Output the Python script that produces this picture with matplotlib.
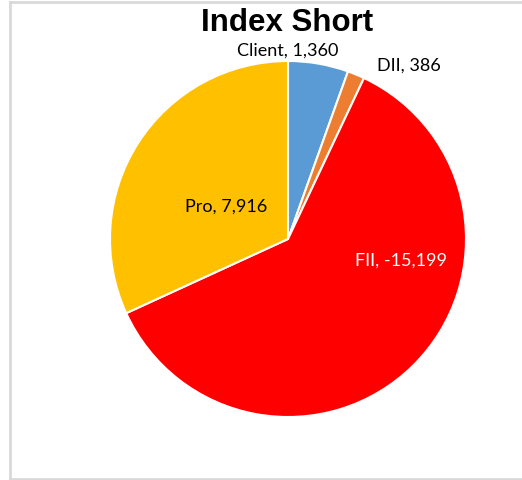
import matplotlib
matplotlib.use("Agg")
import matplotlib.pyplot as plt
from matplotlib.lines import Line2D

# data
labels = ['Client', 'DII', 'FII', 'Pro']
values = [1360, 386, -15199, 7916]
colors = ['#5B9BD5', '#ED7D31', '#FF0000', '#FFC000']
text_colors = ['black', 'black', 'white', 'black']
# label positions (in pie radius units)
label_pos = [(0.0, 1.06), (0.68, 0.975), (0.635, -0.12), (-0.345, 0.18)]

fig = plt.figure(figsize=(5.22, 4.80), dpi=100)

# chart area border
W, H = 522.0, 480.0
for xs, ys in [([10 / W, 1.2], [1 - 2 / H, 1 - 2 / H]),
               ([10 / W, 1.2], [1.5 / H, 1.5 / H]),
               ([10 / W, 10 / W], [1.5 / H, 1 - 2 / H])]:
    fig.add_artist(Line2D(xs, ys, color='#D9D9D9', lw=2, transform=fig.transFigure))

ax = fig.add_axes([110 / W, 63 / H, 356 / W, 356 / H])
sizes = [abs(v) for v in values]
ax.pie(sizes, colors=colors, startangle=90, counterclock=False, radius=1,
       wedgeprops=dict(edgecolor='white', linewidth=1.5))
ax.set_xlim(-1, 1)
ax.set_ylim(-1, 1)
ax.set_aspect('equal')
ax.axis('off')

for lab, v, (x, y), c in zip(labels, values, label_pos, text_colors):
    ax.text(x, y, f"{lab}, {v:,}", ha='center', va='center', color=c,
            fontsize=13, family='Lato')

fig.text(287 / W, 1 - 23 / H, 'Index Short', ha='center', va='center',
         fontsize=22.5, fontweight='bold', family='Liberation Sans')

fig.savefig('out.png', dpi=100)
